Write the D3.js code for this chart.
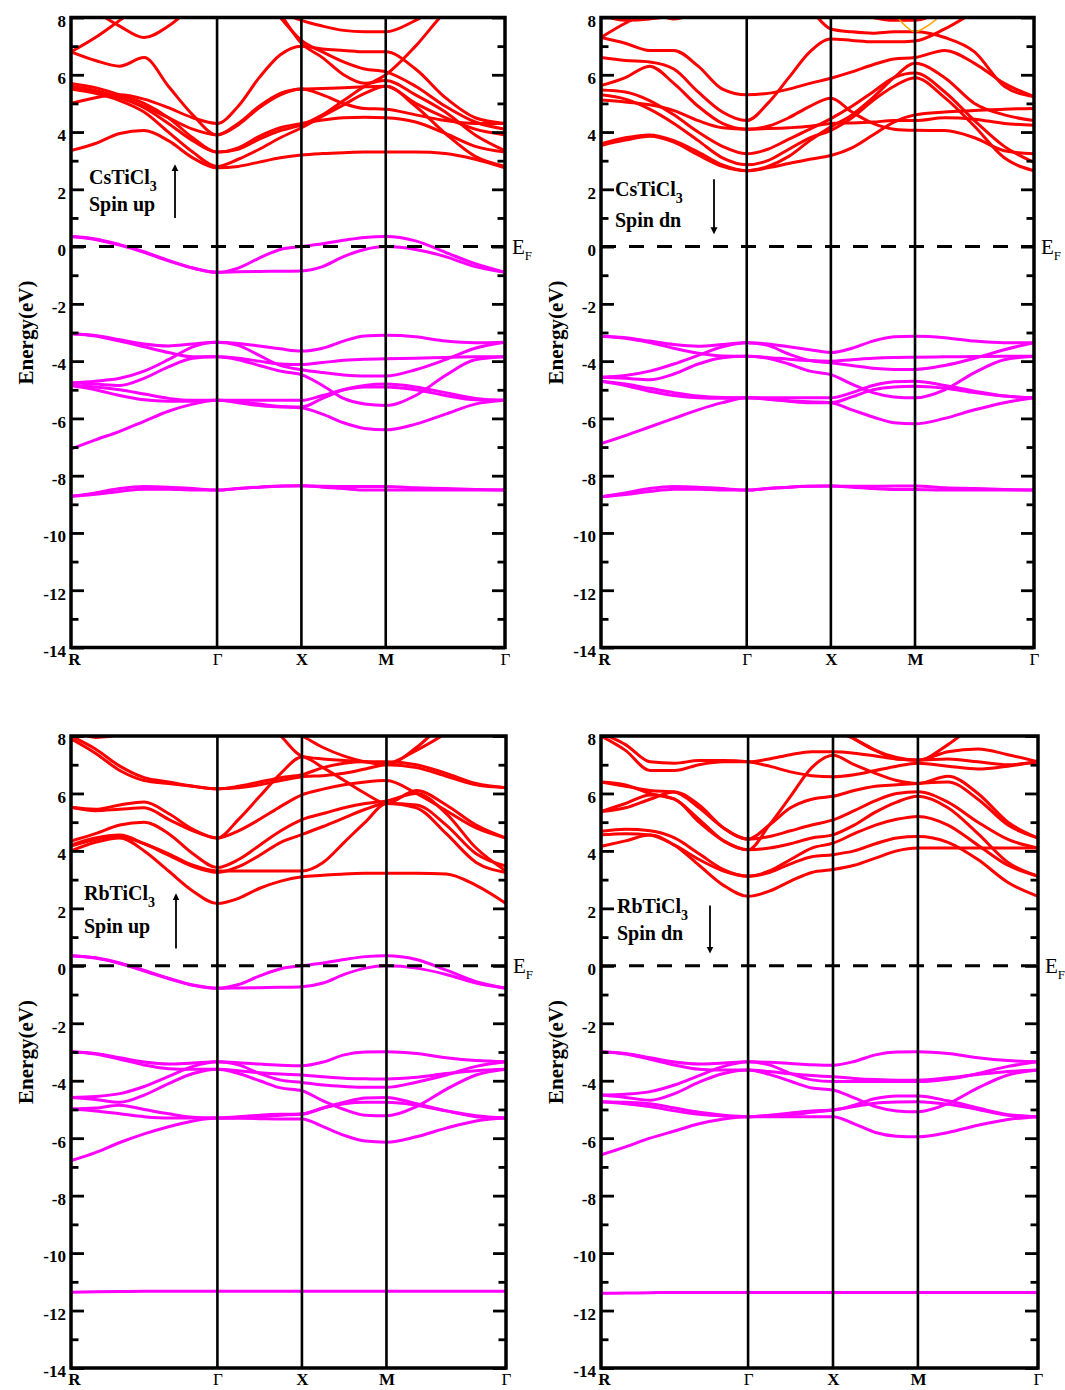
<!DOCTYPE html>
<html><head><meta charset="utf-8">
<script src="https://cdn.jsdelivr.net/npm/d3@7"></script>
<style>body{margin:0;background:#fff}</style>
</head><body>
<svg id="chart" width="1065" height="1390"></svg>
<script>
// ---------- DATA ----------
const kPathLabels = ["R", "Γ", "X", "M", "Γ"];
const kPathPositions = [0, 1.7321, 2.7321, 3.7321, 5.1463];
// k sampling along R-Γ-X-M-Γ
const kSamples = [0, 0.2887, 0.5774, 0.8660, 1.1547, 1.4434, 1.7321,
  1.9821, 2.2321, 2.4821, 2.7321,
  2.9821, 3.2321, 3.4821, 3.7321,
  4.0857, 4.4392, 4.7928, 5.1463];
const yMajorTicks = [-14, -12, -10, -8, -6, -4, -2, 0, 2, 4, 6, 8];
const yMinorTicks = [-13, -11, -9, -7, -5, -3, -1, 1, 3, 5, 7];

// CsTiCl3 spin up
const csUpCond = [
  [3.35, 3.6, 3.95, 4.05, 3.7, 3.1, 2.75, 2.8, 2.95, 3.1, 3.2, 3.25, 3.28, 3.3, 3.3, 3.3, 3.25, 3.05, 2.75],
  [5.5, 5.35, 5.1, 4.7, 4.0, 3.3, 2.8, 3.05, 3.4, 3.8, 4.15, 4.55, 4.95, 5.35, 5.6, 4.9, 3.95, 3.15, 2.8],
  [5.7, 5.55, 5.3, 5.0, 4.5, 3.8, 3.3, 3.45, 3.85, 4.15, 4.3, 4.42, 4.5, 4.52, 4.5, 4.35, 3.95, 3.5, 3.3],
  [6.8, 6.5, 6.3, 6.6, 5.6, 4.6, 3.9, 4.3, 4.9, 5.35, 5.5, 5.52, 5.55, 5.58, 5.6, 5.0, 4.5, 4.1, 3.9],
  [5.0, 5.2, 5.3, 5.15, 4.85, 4.5, 4.3, 4.9, 5.9, 6.7, 7.0, 6.9, 6.85, 6.8, 6.8, 6.2, 5.2, 4.5, 4.3],
  [6.8, 7.3, 7.9, 8.5, 9.1, 9.5, 9.7, 9.5, 8.9, 8.0, 7.2, 6.8, 6.45, 6.2, 6.1, 5.6, 4.9, 4.35, 4.1],
  [8.6, 8.2, 7.7, 7.3, 7.7, 8.4, 9.2, 9.0, 8.6, 8.2, 7.9, 7.7, 7.55, 7.5, 7.5, 7.9, 8.5, 9.0, 9.3],
  [5.6, 5.45, 5.2, 4.85, 4.3, 3.7, 3.3, 3.4, 3.75, 4.05, 4.25, 4.6, 5.1, 5.6, 6.0, 7.0, 8.2, 9.0, 9.5],
  [9.8, 9.8, 9.8, 9.8, 9.8, 9.8, 9.6, 9.3, 8.8, 8.1, 7.1, 6.6, 6.0, 5.7, 5.8, 5.3, 4.7, 3.9, 3.35],
  [5.55, 5.4, 5.2, 4.9, 4.5, 4.1, 3.9, 4.25, 4.85, 5.3, 5.5, 5.3, 5.0, 4.82, 4.8, 4.6, 4.4, 4.3, 4.3]
];
const csUpVal = [
  [0.35, 0.25, 0.05, -0.2, -0.5, -0.75, -0.9, -0.75, -0.4, -0.1, 0.0, 0.1, 0.22, 0.32, 0.35, 0.2, -0.2, -0.6, -0.9],
  [0.35, 0.27, 0.07, -0.18, -0.48, -0.75, -0.9, -0.88, -0.87, -0.86, -0.85, -0.7, -0.35, -0.1, 0.0, -0.1, -0.35, -0.7, -0.9],
  [-3.04, -3.1, -3.25, -3.4, -3.47, -3.4, -3.34, -3.38, -3.47, -3.57, -3.65, -3.55, -3.3, -3.12, -3.1, -3.15, -3.3, -3.36, -3.34],
  [-3.04, -3.12, -3.3, -3.5, -3.7, -3.85, -3.85, -3.9, -4.0, -4.1, -4.12, -4.05, -3.97, -3.93, -3.92, -3.9, -3.87, -3.85, -3.85],
  [-4.76, -4.7, -4.6, -4.35, -3.95, -3.5, -3.34, -3.45, -3.8, -4.15, -4.3, -4.4, -4.48, -4.52, -4.52, -4.3, -3.95, -3.55, -3.34],
  [-4.76, -4.8, -4.85, -4.6, -4.2, -3.9, -3.85, -3.95, -4.15, -4.35, -4.47, -4.85, -5.3, -5.5, -5.55, -5.2, -4.5, -3.95, -3.85],
  [-4.85, -4.9, -5.0, -5.15, -5.3, -5.37, -5.37, -5.37, -5.37, -5.37, -5.37, -5.2, -5.0, -4.9, -4.9, -5.0, -5.2, -5.35, -5.37],
  [-7.07, -6.75, -6.45, -6.1, -5.75, -5.5, -5.37, -5.42, -5.5, -5.58, -5.63, -5.85, -6.15, -6.35, -6.4, -6.2, -5.85, -5.5, -5.37],
  [-4.85, -5.0, -5.2, -5.35, -5.4, -5.4, -5.37, -5.45, -5.55, -5.6, -5.6, -5.3, -5.0, -4.85, -4.8, -4.9, -5.1, -5.3, -5.37],
  [-8.72, -8.6, -8.45, -8.38, -8.4, -8.45, -8.5, -8.45, -8.4, -8.36, -8.35, -8.37, -8.38, -8.38, -8.38, -8.42, -8.45, -8.48, -8.5],
  [-8.72, -8.65, -8.55, -8.47, -8.47, -8.5, -8.5, -8.45, -8.4, -8.37, -8.35, -8.4, -8.45, -8.5, -8.5, -8.5, -8.5, -8.5, -8.5]
];

// CsTiCl3 spin down
const csDnCond = [
  [7.3, 7.1, 6.85, 6.85, 6.3, 5.5, 5.3, 5.35, 5.5, 5.7, 5.88, 6.1, 6.35, 6.55, 6.6, 6.85, 6.4, 5.7, 5.24],
  [6.6, 6.5, 6.45, 6.2, 5.4, 4.7, 4.4, 5.0, 5.9, 6.8, 7.25, 7.2, 7.15, 7.15, 7.18, 7.6, 8.2, 8.8, 9.2],
  [5.62, 5.9, 6.3, 5.7, 4.9, 4.3, 4.1, 4.12, 4.15, 4.2, 4.3, 4.32, 4.35, 4.4, 4.4, 4.5, 4.45, 4.3, 4.24],
  [5.47, 5.4, 5.1, 4.6, 4.0, 3.5, 3.24, 3.4, 3.75, 4.1, 4.47, 4.9, 5.4, 5.9, 6.06, 5.4, 4.4, 3.5, 2.94],
  [5.3, 5.15, 4.8, 4.3, 3.7, 3.1, 2.86, 3.0, 3.4, 3.8, 4.06, 4.5, 5.1, 5.6, 5.9, 5.2, 4.2, 3.1, 2.65],
  [5.12, 5.05, 4.95, 4.75, 4.4, 4.15, 4.1, 4.2, 4.5, 4.9, 5.18, 4.7, 4.3, 4.1, 4.06, 4.05, 3.8, 3.35, 3.24],
  [3.59, 3.8, 3.9, 3.7, 3.3, 2.85, 2.65, 2.75, 2.9, 3.05, 3.18, 3.45, 3.9, 4.35, 4.6, 4.7, 4.75, 4.8, 4.82],
  [3.53, 3.72, 3.85, 3.65, 3.2, 2.8, 2.65, 2.8, 3.15, 3.7, 4.18, 4.6, 5.2, 5.9, 6.4, 5.9, 5.0, 4.6, 4.4],
  [8.1, 7.9, 7.95, 8.1, 8.5, 9.0, 9.3, 9.2, 8.9, 8.3, 7.6, 7.5, 7.45, 7.5, 7.5, 7.3, 6.8, 5.6, 5.24],
  [10, 10, 10, 10, 10, 10, 10, 9.8, 9.3, 8.8, 8.5, 8.2, 8.0, 7.9, 7.9, 8.3, 9.0, 9.5, 10],
  [7.3, 7.8, 8.15, 7.95, 8.3, 9.0, 9.5, 9.5, 9.5, 9.5, 9.5, 9.5, 9.5, 9.5, 9.5, 9.5, 9.5, 9.5, 9.5]
];
const csDnExtraK = [3.5, 3.62, 3.73, 3.85, 4.05];
const csDnExtraE = [8.1, 7.7, 7.5, 7.65, 8.1];
const csDnVal = [
  [-3.13, -3.18, -3.3, -3.42, -3.48, -3.42, -3.36, -3.4, -3.5, -3.6, -3.7, -3.55, -3.3, -3.15, -3.13, -3.18, -3.3, -3.36, -3.36],
  [-3.13, -3.2, -3.35, -3.55, -3.72, -3.82, -3.83, -3.87, -3.93, -3.98, -4.0, -3.95, -3.9, -3.87, -3.86, -3.85, -3.84, -3.83, -3.83],
  [-4.56, -4.5, -4.35, -4.1, -3.8, -3.5, -3.36, -3.45, -3.75, -3.98, -4.06, -4.15, -4.25, -4.29, -4.29, -4.15, -3.9, -3.6, -3.36],
  [-4.56, -4.6, -4.65, -4.45, -4.1, -3.88, -3.83, -3.9, -4.1, -4.35, -4.47, -4.8, -5.1, -5.25, -5.28, -5.0, -4.4, -3.95, -3.83],
  [-4.7, -4.8, -4.95, -5.1, -5.22, -5.27, -5.28, -5.28, -5.28, -5.28, -5.28, -5.1, -4.85, -4.72, -4.7, -4.85, -5.05, -5.22, -5.28],
  [-6.88, -6.6, -6.3, -6.0, -5.7, -5.45, -5.28, -5.32, -5.38, -5.42, -5.45, -5.7, -5.95, -6.15, -6.19, -6.0, -5.7, -5.45, -5.28],
  [-4.7, -4.85, -5.05, -5.2, -5.28, -5.3, -5.28, -5.33, -5.4, -5.45, -5.45, -5.25, -5.0, -4.9, -4.88, -4.95, -5.1, -5.22, -5.28],
  [-8.74, -8.6, -8.45, -8.38, -8.4, -8.45, -8.5, -8.45, -8.4, -8.37, -8.36, -8.37, -8.37, -8.36, -8.36, -8.42, -8.45, -8.48, -8.5],
  [-8.74, -8.66, -8.55, -8.47, -8.47, -8.5, -8.5, -8.45, -8.4, -8.37, -8.36, -8.4, -8.45, -8.48, -8.48, -8.5, -8.5, -8.5, -8.5]
];

// RbTiCl3 spin up
const rbUpCond = [
  [4.0, 4.3, 4.45, 4.0, 3.3, 2.6, 2.17, 2.35, 2.7, 2.95, 3.1, 3.15, 3.2, 3.22, 3.22, 3.22, 3.2, 2.8, 2.17],
  [4.17, 4.4, 4.5, 4.25, 3.9, 3.5, 3.3, 3.3, 3.3, 3.3, 3.3, 3.6, 4.3, 5.0, 5.65, 5.5, 4.6, 3.6, 3.25],
  [4.34, 4.6, 4.9, 5.0, 4.6, 3.9, 3.42, 3.7, 4.2, 4.7, 5.09, 5.3, 5.5, 5.65, 5.74, 6.0, 5.3, 4.1, 3.3],
  [5.52, 5.45, 5.6, 5.7, 5.3, 4.75, 4.45, 4.7, 5.1, 5.55, 5.95, 6.15, 6.3, 6.4, 6.45, 6.0, 5.4, 4.8, 4.45],
  [4.2, 4.45, 4.55, 4.25, 3.85, 3.45, 3.25, 3.45, 3.85, 4.3, 4.57, 4.85, 5.15, 5.45, 5.65, 5.6, 4.9, 3.9, 3.47],
  [5.52, 5.4, 5.45, 5.5, 5.1, 4.7, 4.45, 5.1, 5.9, 6.7, 7.27, 6.9, 6.45, 6.0, 5.65, 6.1, 5.6, 4.9, 4.45],
  [7.9, 7.4, 6.8, 6.45, 6.35, 6.25, 6.16, 6.2, 6.3, 6.45, 6.58, 6.62, 6.7, 6.85, 7.0, 6.9, 6.6, 6.3, 6.2],
  [8.0, 7.55, 6.95, 6.55, 6.4, 6.25, 6.16, 6.25, 6.4, 6.55, 6.65, 6.9, 7.05, 7.1, 7.1, 7.0, 6.7, 6.35, 6.2],
  [8.3, 7.95, 8.05, 8.5, 9.0, 9.5, 9.8, 9.4, 8.7, 8.0, 7.3, 7.2, 7.15, 7.1, 7.05, 7.5, 8.1, 8.8, 9.3],
  [9.5, 9.5, 9.5, 9.5, 9.5, 9.5, 9.5, 9.2, 8.7, 8.3, 8.0, 7.6, 7.3, 7.1, 7.0, 7.6, 8.5, 9.0, 9.5]
];
const rbUpVal = [
  [0.35, 0.27, 0.08, -0.18, -0.45, -0.68, -0.78, -0.65, -0.35, -0.1, 0.0, 0.1, 0.22, 0.32, 0.35, 0.22, -0.15, -0.55, -0.78],
  [0.35, 0.28, 0.1, -0.16, -0.43, -0.67, -0.78, -0.77, -0.76, -0.75, -0.73, -0.6, -0.3, -0.08, 0.0, -0.08, -0.3, -0.6, -0.78],
  [-2.99, -3.05, -3.2, -3.35, -3.42, -3.38, -3.34, -3.37, -3.42, -3.46, -3.48, -3.35, -3.1, -3.0, -2.99, -3.05, -3.2, -3.3, -3.34],
  [-2.99, -3.07, -3.25, -3.45, -3.58, -3.6, -3.6, -3.65, -3.72, -3.77, -3.8, -3.86, -3.91, -3.93, -3.94, -3.88, -3.75, -3.65, -3.6],
  [-4.58, -4.55, -4.45, -4.2, -3.85, -3.5, -3.34, -3.45, -3.75, -3.98, -4.06, -4.15, -4.2, -4.23, -4.23, -4.05, -3.8, -3.5, -3.34],
  [-4.58, -4.65, -4.75, -4.5, -4.1, -3.75, -3.6, -3.75, -4.0, -4.25, -4.35, -4.7, -5.0, -5.2, -5.22, -4.9, -4.3, -3.8, -3.6],
  [-4.98, -4.95, -4.85, -5.0, -5.15, -5.27, -5.3, -5.25, -5.2, -5.17, -5.16, -4.95, -4.75, -4.6, -4.58, -4.8, -5.05, -5.25, -5.3],
  [-6.78, -6.5, -6.15, -5.85, -5.6, -5.4, -5.3, -5.31, -5.32, -5.33, -5.33, -5.6, -5.9, -6.1, -6.14, -5.95, -5.65, -5.4, -5.3],
  [-4.98, -5.05, -5.15, -5.25, -5.3, -5.3, -5.3, -5.28, -5.25, -5.2, -5.16, -4.95, -4.8, -4.75, -4.75, -4.85, -5.05, -5.22, -5.3],
  [-11.36, -11.35, -11.34, -11.33, -11.33, -11.33, -11.33, -11.33, -11.33, -11.33, -11.33, -11.33, -11.33, -11.33, -11.33, -11.33, -11.33, -11.33, -11.33]
];

// RbTiCl3 spin down
const rbDnCond = [
  [4.16, 4.35, 4.55, 4.2, 3.5, 2.8, 2.42, 2.6, 2.95, 3.25, 3.35, 3.5, 3.75, 4.0, 4.1, 4.1, 4.1, 4.1, 4.1],
  [4.56, 4.6, 4.55, 4.2, 3.7, 3.3, 3.12, 3.25, 3.55, 3.8, 3.87, 4.0, 4.25, 4.45, 4.5, 4.3, 3.7, 2.9, 2.42],
  [4.68, 4.75, 4.7, 4.45, 3.9, 3.35, 3.12, 3.3, 3.7, 4.1, 4.27, 4.6, 4.9, 5.1, 5.2, 4.9, 4.2, 3.5, 3.12],
  [5.37, 5.65, 5.95, 5.8, 5.0, 4.35, 4.04, 4.1, 4.25, 4.45, 4.56, 4.9, 5.35, 5.7, 5.9, 5.5, 4.6, 3.6, 3.12],
  [6.4, 6.25, 6.1, 6.05, 5.5, 4.8, 4.41, 4.5, 4.7, 4.9, 5.08, 5.4, 5.75, 6.0, 6.06, 5.7, 5.0, 4.4, 4.1],
  [5.37, 5.5, 5.8, 6.05, 5.6, 4.8, 4.41, 4.9, 5.5, 5.8, 5.9, 6.1, 6.25, 6.3, 6.35, 6.4, 5.8, 4.9, 4.45],
  [6.4, 6.3, 6.0, 5.8, 5.1, 4.35, 4.04, 4.9, 5.9, 6.9, 7.33, 7.0, 6.7, 6.45, 6.35, 6.6, 6.0, 5.0, 4.45],
  [8.0, 7.5, 6.8, 6.8, 7.0, 7.1, 7.1, 7.2, 7.35, 7.45, 7.45, 7.4, 7.3, 7.2, 7.16, 7.2, 7.1, 7.0, 7.1],
  [8.1, 7.7, 7.1, 7.05, 7.15, 7.15, 7.1, 6.95, 6.75, 6.62, 6.58, 6.65, 6.8, 6.95, 7.05, 6.95, 6.85, 6.95, 7.1],
  [9.5, 9.5, 9.5, 9.5, 9.5, 9.5, 9.5, 9.3, 9.0, 8.6, 8.2, 7.9, 7.5, 7.2, 7.16, 7.45, 7.55, 7.35, 7.1],
  [10, 10, 10, 10, 10, 10, 10, 9.8, 9.4, 8.9, 8.4, 7.9, 7.5, 7.25, 7.16, 7.7, 8.5, 9.2, 9.8]
];
const rbDnVal = [
  [-2.99, -3.05, -3.2, -3.35, -3.42, -3.38, -3.34, -3.36, -3.4, -3.44, -3.46, -3.33, -3.1, -3.0, -2.99, -3.05, -3.2, -3.3, -3.34],
  [-2.99, -3.07, -3.25, -3.45, -3.6, -3.63, -3.63, -3.68, -3.76, -3.82, -3.86, -3.92, -3.96, -3.98, -3.98, -3.9, -3.78, -3.68, -3.63],
  [-4.5, -4.47, -4.38, -4.15, -3.82, -3.5, -3.34, -3.45, -3.75, -3.97, -4.03, -4.03, -4.03, -4.03, -4.03, -3.95, -3.75, -3.5, -3.34],
  [-4.5, -4.58, -4.68, -4.45, -4.05, -3.75, -3.63, -3.78, -4.02, -4.25, -4.32, -4.6, -4.9, -5.05, -5.08, -4.8, -4.25, -3.8, -3.63],
  [-4.73, -4.8, -4.9, -5.05, -5.17, -5.23, -5.25, -5.2, -5.12, -5.05, -5.02, -4.85, -4.62, -4.53, -4.53, -4.7, -4.95, -5.18, -5.25],
  [-6.58, -6.3, -6.0, -5.75, -5.5, -5.33, -5.25, -5.25, -5.25, -5.25, -5.25, -5.5, -5.8, -5.93, -5.95, -5.8, -5.55, -5.35, -5.25],
  [-4.73, -4.75, -4.8, -4.95, -5.1, -5.2, -5.25, -5.22, -5.18, -5.1, -5.02, -4.9, -4.78, -4.74, -4.73, -4.82, -5.0, -5.2, -5.25],
  [-11.4, -11.39, -11.38, -11.37, -11.37, -11.37, -11.37, -11.37, -11.37, -11.37, -11.37, -11.37, -11.37, -11.37, -11.37, -11.37, -11.37, -11.37, -11.37]
];

// ---------- LAYOUT ----------
const panels = [
  {formula: "CsTiCl", spin: "Spin up", dir: "up", cond: csUpCond, val: csUpVal,
   x0: 71, x1: 505, y0: 17.5, y1: 647.5,
   lab: {x: 89, e1: 2.2, e2: 1.25, ax: 175, aTop: 2.75, aBot: 1.0}},
  {formula: "CsTiCl", spin: "Spin dn", dir: "dn", cond: csDnCond, val: csDnVal,
   x0: 601, x1: 1034, y0: 17.5, y1: 647.5,
   extra: {k: csDnExtraK, e: csDnExtraE},
   lab: {x: 615, e1: 1.75, e2: 0.7, ax: 714, aTop: 2.35, aBot: 0.55}},
  {formula: "RbTiCl", spin: "Spin up", dir: "up", cond: rbUpCond, val: rbUpVal,
   x0: 71, x1: 506, y0: 736, y1: 1368,
   lab: {x: 84, e1: 2.3, e2: 1.15, ax: 176, aTop: 2.4, aBot: 0.6}},
  {formula: "RbTiCl", spin: "Spin dn", dir: "dn", cond: rbDnCond, val: rbDnVal,
   x0: 601, x1: 1038, y0: 736, y1: 1368,
   lab: {x: 617, e1: 1.85, e2: 0.9, ax: 710, aTop: 2.1, aBot: 0.55}}
];

const svg = d3.select("#chart");
const SERIF = "'Liberation Serif','Times New Roman',Times,serif";
const defs = svg.append("defs");
defs.append("marker").attr("id", "arrowhead").attr("viewBox", "0 0 10 10")
  .attr("refX", 5).attr("refY", 5).attr("markerWidth", 7).attr("markerHeight", 9)
  .attr("markerUnits", "userSpaceOnUse").attr("orient", "auto")
  .append("path").attr("d", "M0,0 L10,5 L0,10 Z").attr("fill", "#000");

panels.forEach((p, i) => {
  const x = d3.scaleLinear().domain([0, 5.1463]).range([p.x0, p.x1]);
  const y = d3.scaleLinear().domain([-14, 8]).range([p.y1, p.y0]);
  const g = svg.append("g");
  defs.append("clipPath").attr("id", "clip" + i).append("rect")
    .attr("x", p.x0).attr("y", p.y0).attr("width", p.x1 - p.x0).attr("height", p.y1 - p.y0);

  const line = d3.line().x((d, j) => x(kSamples[j])).y(d => y(d)).curve(d3.curveMonotoneX);
  const bands = g.append("g").attr("clip-path", `url(#clip${i})`);
  bands.selectAll("path.val").data(p.val).join("path").attr("class", "val")
    .attr("d", line).attr("fill", "none").attr("stroke", "#ff00ff").attr("stroke-width", 3)
    .attr("stroke-linejoin", "round");
  bands.selectAll("path.cond").data(p.cond).join("path").attr("class", "cond")
    .attr("d", line).attr("fill", "none").attr("stroke", "#ff0000").attr("stroke-width", 3)
    .attr("stroke-linejoin", "round");
  if (p.extra) {
    const xl = d3.line().x((d, j) => x(p.extra.k[j])).y(d => y(d)).curve(d3.curveMonotoneX);
    bands.append("path").attr("d", xl(p.extra.e)).attr("fill", "none")
      .attr("stroke", "#ffa500").attr("stroke-width", 1.5);
  }

  // high-symmetry vertical lines
  g.selectAll("line.hs").data(kPathPositions.slice(1, -1)).join("line").attr("class", "hs")
    .attr("x1", d => x(d)).attr("x2", d => x(d)).attr("y1", p.y0).attr("y2", p.y1)
    .attr("stroke", "#000").attr("stroke-width", 2.6);

  // Fermi level
  g.append("line").attr("x1", p.x0).attr("x2", p.x1).attr("y1", y(0)).attr("y2", y(0))
    .attr("stroke", "#000").attr("stroke-width", 3).attr("stroke-dasharray", "15,13");

  // frame
  g.append("rect").attr("x", p.x0).attr("y", p.y0).attr("width", p.x1 - p.x0).attr("height", p.y1 - p.y0)
    .attr("fill", "none").attr("stroke", "#000").attr("stroke-width", 3.5);

  // axes
  const styleTicks = sel => {
    sel.select(".domain").remove();
    sel.selectAll(".tick line").attr("stroke", "#000").attr("stroke-width", 2.8);
    sel.selectAll(".tick text").attr("fill", "#000").attr("font-family", SERIF)
      .attr("font-weight", "bold").attr("font-size", 17);
  };
  g.append("g").attr("transform", `translate(${p.x0},0)`)
    .call(d3.axisLeft(y).tickValues(yMajorTicks).tickSize(-13).tickPadding(5).tickFormat(d => String(d)))
    .call(styleTicks).call(s => s.selectAll(".tick text").attr("dy", "0.52em"));
  g.append("g").attr("transform", `translate(${p.x0},0)`)
    .call(d3.axisLeft(y).tickValues(yMinorTicks).tickSize(-7.5).tickFormat(""))
    .call(styleTicks);
  g.append("g").attr("transform", `translate(${p.x1},0)`)
    .call(d3.axisRight(y).tickValues(yMajorTicks).tickSize(-13).tickFormat(""))
    .call(styleTicks);
  g.append("g").attr("transform", `translate(${p.x1},0)`)
    .call(d3.axisRight(y).tickValues(yMinorTicks).tickSize(-7.5).tickFormat(""))
    .call(styleTicks);
  g.append("g").attr("transform", `translate(0,${p.y1})`)
    .call(d3.axisBottom(x).tickValues(kPathPositions).tickSize(0).tickPadding(5)
      .tickFormat((d, j) => kPathLabels[j]))
    .call(styleTicks)
    .call(s => s.selectAll(".tick text")
      .attr("dx", (d, j) => j === 0 ? 3 : 0)
      .attr("font-weight", (d, j) => kPathLabels[j] === "Γ" ? "normal" : "bold"));

  // y-axis title
  g.append("text").attr("transform", `translate(${p.x0 - 38},${(p.y0 + p.y1) / 2}) rotate(-90)`)
    .attr("text-anchor", "middle").attr("font-family", SERIF).attr("font-weight", "bold")
    .attr("font-size", 21).text("Energy(eV)");

  // E_F label
  const ef = g.append("text").attr("x", p.x1 + 7).attr("y", y(0) + 7)
    .attr("font-family", SERIF).attr("font-size", 21).attr("fill", "#000");
  ef.append("tspan").text("E");
  ef.append("tspan").attr("font-size", 13).attr("dy", 6).text("F");

  // compound / spin annotation
  const t1 = g.append("text").attr("x", p.lab.x).attr("y", y(p.lab.e1))
    .attr("font-family", SERIF).attr("font-weight", "bold").attr("font-size", 20);
  t1.append("tspan").text(p.formula);
  t1.append("tspan").attr("font-size", 14).attr("dy", 7).text("3");
  g.append("text").attr("x", p.lab.x).attr("y", y(p.lab.e2))
    .attr("font-family", SERIF).attr("font-weight", "bold").attr("font-size", 20).text(p.spin);
  const up = p.dir === "up";
  g.append("line").attr("x1", p.lab.ax).attr("x2", p.lab.ax)
    .attr("y1", up ? y(p.lab.aBot) : y(p.lab.aTop))
    .attr("y2", up ? y(p.lab.aTop) : y(p.lab.aBot))
    .attr("stroke", "#000").attr("stroke-width", 1.8).attr("marker-end", "url(#arrowhead)");
});
</script>
</body></html>
